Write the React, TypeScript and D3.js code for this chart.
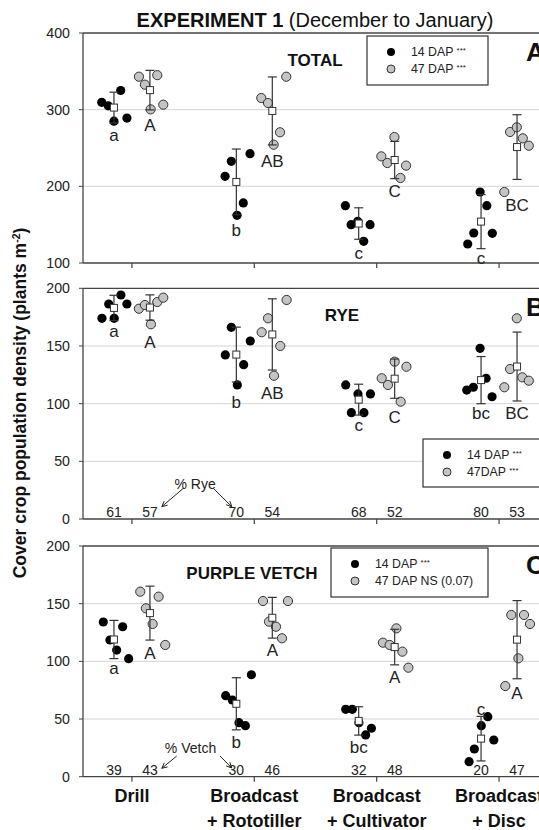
import React from "react";
import * as d3 from "d3";

// ---------- DATA ----------
const categoryLine1 = ["Drill", "Broadcast", "Broadcast", "Broadcast"];
const categoryLine2 = ["", "+ Rototiller", "+ Cultivator", "+ Disc"];

// TOTAL (panel A) – plants m-2, 5 replicates per method
const total14 = [
  [309.6, 305, 325, 285, 289],
  [213, 232.6, 242.6, 178.3, 162.2],
  [174.8, 150, 154.3, 150, 128.3],
  [124.8, 139.1, 192.6, 174.8, 138.7],
];
const total47 = [
  [343, 332.6, 345, 300.4, 306.5],
  [315.2, 308.7, 343, 270.5, 254.3],
  [239.1, 230.4, 264.3, 227, 210.9],
  [192.6, 270.9, 277, 262.6, 253],
];
const totalJit14 = [
  [-0.1, -0.047, 0.055, 0.0, 0.106],
  [-0.092, -0.041, 0.112, 0.057, 0.006],
  [-0.109, -0.062, -0.008, 0.093, 0.041],
  [-0.109, -0.06, -0.008, 0.047, 0.092],
];
const totalJit47 = [
  [-0.09, -0.041, 0.06, 0.006, 0.109],
  [-0.09, -0.035, 0.114, 0.063, 0.011],
  [-0.109, -0.06, -0.002, 0.093, 0.047],
  [-0.104, -0.057, -0.002, 0.047, 0.096],
];
const totalLetters14 = ["a", "b", "c", "c"];
const totalLetters47 = ["A", "AB", "C", "BC"];
const totalLetterAt14 = [267.4, 143.5, 113, 106.5];
const totalLetterAt47 = [280.4, 232.6, 194.3, 176];

// RYE (panel B)
const rye14 = [
  [174, 186.4, 174, 194.2, 186.4],
  [142.2, 166.2, 116.2, 133.8, 154.3],
  [116.2, 92.2, 108.4, 92.2, 108.4],
  [111.8, 114.2, 148, 122, 106],
];
const rye47 = [
  [182.3, 185.5, 168.8, 188.1, 191.9],
  [161.9, 174, 124.2, 150, 189.9],
  [122, 116.2, 136.4, 101.7, 132],
  [114.2, 130, 174, 122.8, 119.9],
];
const ryeJit14 = [
  [-0.098, -0.043, 0.002, 0.057, 0.106],
  [-0.09, -0.041, 0.008, 0.06, 0.114],
  [-0.106, -0.06, -0.006, 0.043, 0.096],
  [-0.117, -0.063, -0.008, 0.041, 0.09],
];
const ryeJit47 = [
  [-0.09, -0.041, 0.008, 0.06, 0.109],
  [-0.087, -0.035, 0.014, 0.065, 0.117],
  [-0.106, -0.055, 0.0, 0.049, 0.096],
  [-0.104, -0.057, -0.002, 0.043, 0.096],
];
const ryeLetters14 = ["a", "b", "c", "bc"];
const ryeLetters47 = ["A", "AB", "C", "BC"];
const ryeLetterAt14 = [163.3, 101.2, 81.5, 91.6];
const ryeLetterAt47 = [153.7, 109, 88.7, 91.6];
const ryePct14 = [61, 70, 68, 80];
const ryePct47 = [57, 54, 52, 53];

// PURPLE VETCH (panel C)
const vetch14 = [
  [134.1, 118.5, 109.8, 130, 102.3],
  [70.2, 66.5, 46.8, 44.2, 88.4],
  [58.4, 58.4, 46.8, 36.2, 42],
  [13, 24, 44.2, 52, 31.8],
];
const vetch47 = [
  [160.4, 146, 132.4, 156.1, 114.2],
  [152.3, 134.4, 130, 120, 152.3],
  [116.2, 114.2, 128.6, 108.4, 94.5],
  [78.6, 140.2, 102.6, 140.2, 132.4],
];
const vetchJit14 = [
  [-0.087, -0.033, 0.022, 0.071, 0.12],
  [-0.087, -0.033, 0.022, 0.074, 0.123],
  [-0.106, -0.052, 0.002, 0.057, 0.104],
  [-0.098, -0.055, 0.002, 0.055, 0.104],
];
const vetchJit47 = [
  [-0.079, -0.033, 0.022, 0.071, 0.125],
  [-0.076, -0.027, 0.03, 0.079, 0.128],
  [-0.096, -0.041, 0.014, 0.063, 0.112],
  [-0.096, -0.047, 0.011, 0.057, 0.106],
];
const vetchLetters14 = ["a", "b", "bc", "c"];
const vetchLetters47 = ["A", "A", "A", "A"];
const vetchLetterAt14 = [94, 30.4, 26, 58.4];
const vetchLetterAt47 = [107, 109.8, 86.2, 72.3];
const vetchPct14 = [39, 30, 32, 20];
const vetchPct47 = [43, 46, 48, 47];

const totalTicks = [100, 200, 300, 400];
const partTicks = [0, 50, 100, 150, 200];

// 95% CI (t, df = 4)
const T_CRIT = 2.776;

// ---------- LAYOUT ----------
const W = 539;
const H = 830;
const FONT = "'Liberation Sans', Arial, Helvetica, sans-serif";
const INK = "#222";
const AXIS = "#444";
const GRID = "#d4d4d4";
const GRAY_FILL = "#c4c4c4";

const x = d3.scaleLinear().domain([0.6, 4.4]).range([83, 548]);
const GROUP_OFF = 0.147;

type Legend = {
  x0: number; y0: number; w: number; h: number;
  labels: string[]; stars: boolean[];
};

type Panel = {
  key: string;
  title: string;
  titleX: number;
  big: string;
  y: d3.ScaleLinear<number, number>;
  ticks: number[];
  v14: number[][]; v47: number[][];
  j14: number[][]; j47: number[][];
  l14: string[]; l47: string[];
  la14: number[]; la47: number[];
  pct14?: number[]; pct47?: number[];
  annot?: { text: string; tx: number; ty: number; arrows: [number, number, number, number][] };
  legend: Legend;
};

const panels: Panel[] = [
  {
    key: "A", title: "TOTAL", titleX: 315, big: "A",
    y: d3.scaleLinear().domain([100, 400]).range([263, 33]),
    ticks: totalTicks,
    v14: total14, v47: total47, j14: totalJit14, j47: totalJit47,
    l14: totalLetters14, l47: totalLetters47, la14: totalLetterAt14, la47: totalLetterAt47,
    legend: { x0: 367, y0: 36, w: 121, h: 49, labels: ["14 DAP ", "47 DAP "], stars: [true, true] },
  },
  {
    key: "B", title: "RYE", titleX: 342, big: "B",
    y: d3.scaleLinear().domain([0, 200]).range([519, 288.3]),
    ticks: partTicks,
    v14: rye14, v47: rye47, j14: ryeJit14, j47: ryeJit47,
    l14: ryeLetters14, l47: ryeLetters47, la14: ryeLetterAt14, la47: ryeLetterAt47,
    pct14: ryePct14, pct47: ryePct47,
    annot: {
      text: "% Rye", tx: 1.516, ty: 30.3,
      arrows: [[1.42, 26.6, 1.244, 10.7], [1.665, 26.6, 1.816, 10.7]],
    },
    legend: { x0: 423, y0: 439, w: 125, h: 48, labels: ["14 DAP ", "47DAP "], stars: [true, true] },
  },
  {
    key: "C", title: "PURPLE VETCH", titleX: 252, big: "C",
    y: d3.scaleLinear().domain([0, 200]).range([776.7, 546]),
    ticks: partTicks,
    v14: vetch14, v47: vetch47, j14: vetchJit14, j47: vetchJit47,
    l14: vetchLetters14, l47: vetchLetters47, la14: vetchLetterAt14, la47: vetchLetterAt47,
    pct14: vetchPct14, pct47: vetchPct47,
    annot: {
      text: "% Vetch", tx: 1.479, ty: 24.6,
      arrows: [[1.366, 17.9, 1.244, 7.3], [1.72, 17.9, 1.816, 7.6]],
    },
    legend: { x0: 331, y0: 548, w: 157, h: 49, labels: ["14 DAP ", "47 DAP NS (0.07)"], stars: [true, false] },
  },
];

function Arrow({ x1, y1, x2, y2 }: { x1: number; y1: number; x2: number; y2: number }) {
  const a = Math.atan2(y2 - y1, x2 - x1);
  const L = 6;
  const s = 0.45;
  const p1 = [x2 - L * Math.cos(a - s), y2 - L * Math.sin(a - s)];
  const p2 = [x2 - L * Math.cos(a + s), y2 - L * Math.sin(a + s)];
  return (
    <g stroke={INK} strokeWidth={1} fill="none">
      <line x1={x1} y1={y1} x2={x2} y2={y2} />
      <polyline points={`${p1[0]},${p1[1]} ${x2},${y2} ${p2[0]},${p2[1]}`} />
    </g>
  );
}

function PanelView({ p }: { p: Panel }) {
  const y = p.y;
  const [d0, d1] = y.domain();
  const yTop = y(d1);
  const yBot = y(d0);
  const xL = x.range()[0];
  const xR = x.range()[1];
  const series = [
    { vals: p.v14, jit: p.j14, off: -GROUP_OFF, fill: "#000", stroke: "#000", letters: p.l14, la: p.la14, pct: p.pct14 },
    { vals: p.v47, jit: p.j47, off: GROUP_OFF, fill: GRAY_FILL, stroke: "#333", letters: p.l47, la: p.la47, pct: p.pct47 },
  ];
  return (
    <g>
      {p.ticks.filter((t) => t > d0 && t < d1).map((t) => (
        <line key={t} x1={xL} x2={xR} y1={y(t)} y2={y(t)} stroke={GRID} strokeWidth={1} />
      ))}
      <line x1={xL} x2={xR} y1={yTop} y2={yTop} stroke={AXIS} strokeWidth={1.3} />
      <line x1={xL} x2={xR} y1={yBot} y2={yBot} stroke={AXIS} strokeWidth={1.3} />
      <line x1={xL} x2={xL} y1={yTop} y2={yBot} stroke={AXIS} strokeWidth={1.3} />
      {p.ticks.map((t) => (
        <g key={t}>
          <line x1={xL - 4} x2={xL} y1={y(t)} y2={y(t)} stroke={AXIS} strokeWidth={1} />
          <text x={xL - 13} y={y(t)} dy="0.35em" textAnchor="end" fontSize={14.2} fill={INK}>{t}</text>
        </g>
      ))}
      {categoryLine1.map((_, i) => (
        <line key={i} x1={x(i + 1)} x2={x(i + 1)} y1={yBot} y2={yBot + 5} stroke={AXIS} strokeWidth={1.2} />
      ))}
      {series.map((s, si) =>
        s.vals.map((grp, g) =>
          grp.map((v, k) => (
            <circle key={`${si}-${g}-${k}`} cx={x(g + 1 + s.off + s.jit[g][k])} cy={y(v)} r={4.6}
              fill={s.fill} stroke={s.stroke} strokeWidth={si === 0 ? 0 : 1} />
          ))
        )
      )}
      {series.map((s, si) =>
        s.vals.map((grp, g) => {
          const m = d3.mean(grp) as number;
          const sd = d3.deviation(grp) as number;
          const ci = (T_CRIT * sd) / Math.sqrt(grp.length);
          const cx = x(g + 1 + s.off);
          return (
            <g key={`m${si}-${g}`} stroke="#333" strokeWidth={1.2}>
              <line x1={cx} x2={cx} y1={y(m + ci)} y2={y(m - ci)} />
              <line x1={cx - 4.5} x2={cx + 4.5} y1={y(m + ci)} y2={y(m + ci)} />
              <line x1={cx - 4.5} x2={cx + 4.5} y1={y(m - ci)} y2={y(m - ci)} />
              <rect x={cx - 3.5} y={y(m) - 3.5} width={7} height={7} fill="#fff" strokeWidth={1} />
            </g>
          );
        })
      )}
      {series.map((s, si) =>
        s.letters.map((l, g) => (
          <text key={`l${si}-${g}`} x={x(g + 1 + s.off)} y={y(s.la[g])} dy="0.36em" textAnchor="middle"
            fontSize={17} fill={INK}>{l}</text>
        ))
      )}
      {series.map((s, si) =>
        s.pct ? s.pct.map((v, g) => (
          <text key={`p${si}-${g}`} x={x(g + 1 + s.off)} y={y(6)} dy="0.36em" textAnchor="middle"
            fontSize={14} fill={INK}>{v}</text>
        )) : null
      )}
      {p.annot ? (
        <g>
          <text x={x(p.annot.tx)} y={y(p.annot.ty)} dy="0.36em" textAnchor="middle" fontSize={14} fill={INK}>{p.annot.text}</text>
          {p.annot.arrows.map((a, i) => (
            <Arrow key={i} x1={x(a[0])} y1={y(a[1])} x2={x(a[2])} y2={y(a[3])} />
          ))}
        </g>
      ) : null}
      <text x={p.titleX} y={yTop + 27} dy="0.36em" textAnchor="middle" fontSize={17} fontWeight="bold" fill="#111">{p.title}</text>
      <text x={526} y={yTop + 28} textAnchor="start" fontSize={26} fontWeight="bold" fill="#111">{p.big}</text>
      <g>
        <rect x={p.legend.x0} y={p.legend.y0} width={p.legend.w} height={p.legend.h} fill="#fff" stroke="#333" strokeWidth={1.2} />
        {p.legend.labels.map((lab, i) => {
          const cy = p.legend.y0 + 16 + i * 17;
          return (
            <g key={i}>
              <circle cx={p.legend.x0 + 24} cy={cy} r={4} fill={i === 0 ? "#000" : GRAY_FILL} stroke={i === 0 ? "none" : "#333"} strokeWidth={1} />
              <text x={p.legend.x0 + 44} y={cy} dy="0.36em" fontSize={12.3} fill={INK}>
                {lab}
                {p.legend.stars[i] ? <tspan fontSize={8} dy="-3">***</tspan> : null}
              </text>
            </g>
          );
        })}
      </g>
    </g>
  );
}

export default function App() {
  const yBottom = panels[2].y(0);
  return (
    <svg width={W} height={H} viewBox={`0 0 ${W} ${H}`}
      style={{ position: "absolute", left: 0, top: 0, background: "#fff" }}
      fontFamily={FONT}>
      <rect x={0} y={0} width={W} height={H} fill="#fff" />
      <text x={315} y={27} textAnchor="middle" fontSize={20} fill="#111">
        <tspan fontWeight="bold">EXPERIMENT 1</tspan>
        <tspan> (December to January)</tspan>
      </text>
      <text transform={`translate(26,403) rotate(-90)`} textAnchor="middle" fontSize={17.5} fontWeight="bold" fill="#111">
        Cover crop population density (plants m
        <tspan fontSize={10.5} dy="-6">-2</tspan>
        <tspan dy="6">)</tspan>
      </text>
      {panels.map((p) => <PanelView key={p.key} p={p} />)}
      {categoryLine1.map((c, i) => (
        <g key={i}>
          <text x={x(i + 1)} y={yBottom + 25} textAnchor="middle" fontSize={18} fontWeight="bold" fill="#111">{c}</text>
          {categoryLine2[i] ? (
            <text x={x(i + 1)} y={yBottom + 50} textAnchor="middle" fontSize={18} fontWeight="bold" fill="#111">{categoryLine2[i]}</text>
          ) : null}
        </g>
      ))}
    </svg>
  );
}
